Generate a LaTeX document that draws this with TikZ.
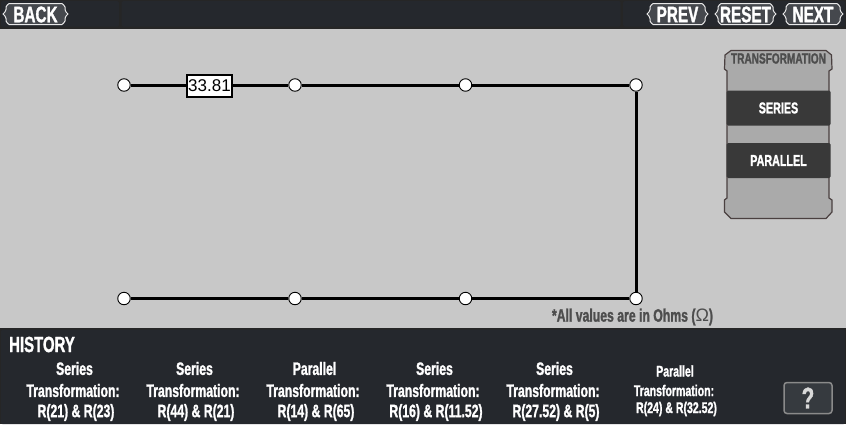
\documentclass[tikz,border=0pt]{standalone}
\usepackage{fontspec}
\setmainfont{Liberation Sans}
\newfontfamily\uifont[FakeStretch=0.68,FakeBold=1.3]{Liberation Sans Bold}
\newcommand{\ui}[1]{\fontsize{#1}{#1}\selectfont\uifont}
\definecolor{barbg}{HTML}{25282D}
\definecolor{canvasbg}{HTML}{C8C8C8}
\definecolor{plaquebg}{HTML}{45484D}
\definecolor{panelbg}{HTML}{AAAAAA}
\definecolor{panelline}{HTML}{4A4040}
\definecolor{btnbg}{HTML}{393939}
\definecolor{plaqueline}{HTML}{E8E8E8}
\definecolor{panelink}{HTML}{4D4D4D}
\definecolor{qline}{HTML}{8A8A8A}
\definecolor{qbg}{HTML}{363A3F}
\tikzset{
  junction/.style={circle,draw=black,fill=white,line width=0.9pt,minimum size=12.5pt,inner sep=0pt},
  wire/.style={line width=3pt,black},
  valuebox/.style={draw=black,fill=white,line width=2pt,minimum width=45pt,minimum height=22pt,inner sep=0pt,font=\fontsize{17}{17}\selectfont},
  plaquetext/.style={text=white,inner sep=0pt,font=\ui{22.5}},
  btn/.style={fill=btnbg,rounded corners=1.5pt,minimum width=104pt,minimum height=35pt,inner sep=0pt,text=white,font=\ui{15.8}},
  histline/.style={text=white,inner sep=0pt,font=\ui{18}},
  histsmall/.style={text=white,inner sep=0pt,font=\ui{15.5}},
}
\newcommand{\plaque}[2]{% x0, x1: brace-sided plate, tips pointing outward
  \draw[draw=plaqueline,fill=plaquebg,line width=1pt]
    (#1+6,3.5) -- (#2-6,3.5) .. controls (#2-5,5) and (#2-3,5.5) .. (#2-3,7)
    -- (#2-3,9.5) .. controls (#2-3,12) and (#2-1,12.5) .. (#2,14)
    .. controls (#2-1,15.5) and (#2-3,16) .. (#2-3,18.5) -- (#2-3,21)
    .. controls (#2-3,22.5) and (#2-5,23) .. (#2-6,24.5) -- (#1+6,24.5)
    .. controls (#1+5,23) and (#1+3,22.5) .. (#1+3,21) -- (#1+3,18.5)
    .. controls (#1+3,16) and (#1+1,15.5) .. (#1,14)
    .. controls (#1+1,12.5) and (#1+3,12) .. (#1+3,9.5) -- (#1+3,7)
    .. controls (#1+3,5.5) and (#1+5,5) .. (#1+6,3.5) -- cycle;
}
\begin{document}
\begin{tikzpicture}[x=1pt,y=-1pt]
\useasboundingbox (0,0) rectangle (846,424);
\fill[canvasbg] (0,0) rectangle (846,424);
% top bar
\fill[black!85] (0,0) rectangle (846,28.5);
\fill[barbg,rounded corners=1.5pt] (1,1) rectangle (119,26.5);
\fill[barbg,rounded corners=1.5pt] (121.5,1) rectangle (620.5,26.5);
\fill[barbg,rounded corners=1.5pt] (623,1) rectangle (845,26.5);
\plaque{3}{68}
\node[plaquetext] (back) at (35.5,14.5) {BACK};
\plaque{647}{708}
\node[plaquetext] (prev) at (677.5,14.5) {PREV};
\plaque{715}{776}
\node[plaquetext] (reset) at (745.5,14.5) {RESET};
\plaque{783}{843}
\node[plaquetext] (next) at (813,14.5) {NEXT};
% circuit
\node[junction] (a1) at (124,85) {};
\node[junction] (a2) at (295,85) {};
\node[junction] (a3) at (465.5,85) {};
\node[junction] (a4) at (636,85) {};
\node[junction] (b1) at (124,298.5) {};
\node[junction] (b2) at (295,298.5) {};
\node[junction] (b3) at (465.5,298.5) {};
\node[junction] (b4) at (636,298.5) {};
\draw[wire] (a1) -- (a2);
\draw[wire] (a2) -- (a3);
\draw[wire] (a3) -- (a4);
\draw[wire] (a4) -- (b4);
\draw[wire] (b4) -- (b3);
\draw[wire] (b3) -- (b2);
\draw[wire] (b2) -- (b1);
\node[valuebox] (val) at (209.5,85.5) {33.81};
% panel
\draw[draw=panelline,fill=panelbg,line width=1.2pt]
  (731,50.5) -- (826,50.5) -- (831.5,55) -- (832,69) -- (829,71) -- (829,198) -- (832,200)
  -- (832,212) -- (826,218.5) -- (731,218.5) -- (724.5,212) -- (724.5,200) -- (727,198)
  -- (727,71) -- (724.5,69) -- (725,55) -- cycle;
\node[inner sep=0pt,text=panelink,font=\ui{14.8}] (ttl) at (778.5,58.5) {TRANSFORMATION};
\node[btn] (series) at (778.5,108) {SERIES};
\node[btn] (parallel) at (778.5,160.5) {PARALLEL};
% note
\node[inner sep=0pt,text=panelink,font=\ui{18}] (note) at (632.5,317) {*All values are in Ohms ({\fontspec{Liberation Sans}Ω})};
% history
\fill[black!85] (0,328) rectangle (846,424);
\fill[barbg,rounded corners=1.5pt] (1,329.5) rectangle (845,424);
\node[inner sep=0pt,text=white,font=\ui{22}] (hist) at (42,344.5) {HISTORY};
\node[histline] (h1a) at (74.5,368.5) {Series};
\node[histline] (h1b) at (73,390.5) {Transformation:};
\node[histline] (h1c) at (76,412.5) {R(21) \& R(23)};
\node[histline] (h2a) at (194.5,368.5) {Series};
\node[histline] (h2b) at (193,390.5) {Transformation:};
\node[histline] (h2c) at (196,412.5) {R(44) \& R(21)};
\node[histline] (h3a) at (314.5,368.5) {Parallel};
\node[histline] (h3b) at (313,390.5) {Transformation:};
\node[histline] (h3c) at (316,412.5) {R(14) \& R(65)};
\node[histline] (h4a) at (434.5,368.5) {Series};
\node[histline] (h4b) at (433,390.5) {Transformation:};
\node[histline] (h4c) at (436,412.5) {R(16) \& R(11.52)};
\node[histline] (h5a) at (554.5,368.5) {Series};
\node[histline] (h5b) at (553,390.5) {Transformation:};
\node[histline] (h5c) at (556,412.5) {R(27.52) \& R(5)};
\node[histsmall] (h6a) at (675,371) {Parallel};
\node[histsmall] (h6b) at (674,390.5) {Transformation:};
\node[histsmall] (h6c) at (676.5,409) {R(24) \& R(32.52)};
\node[draw=qline,fill=qbg,line width=1.5pt,rounded corners=3pt,minimum width=48pt,minimum height=31pt,inner sep=0pt,text=white!85!black,font=\ui{30}] (help) at (808,398) {?};
\end{tikzpicture}
\end{document}
